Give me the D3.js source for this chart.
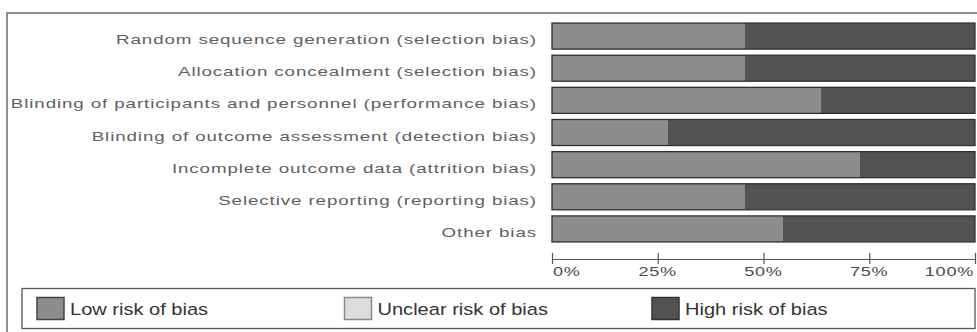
<!DOCTYPE html>
<html>
<head>
<meta charset="utf-8">
<script src="https://cdn.jsdelivr.net/npm/d3@7"></script>
<style>
  html, body { margin: 0; padding: 0; background: #fff; }
  svg { display: block; }
  text { font-family: "Liberation Sans", Arial, sans-serif; }
</style>
</head>
<body>
<svg id="chart" width="977" height="332"></svg>
<script>
// Risk-of-bias domains (top to bottom)
const domains = [
  "Random sequence generation (selection bias)",
  "Allocation concealment (selection bias)",
  "Blinding of participants and personnel (performance bias)",
  "Blinding of outcome assessment (detection bias)",
  "Incomplete outcome data (attrition bias)",
  "Selective reporting (reporting bias)",
  "Other bias"
];
// Share of studies per judgement, in percent
const lowRisk     = [45.5, 45.5, 63.6, 27.3, 72.7, 45.5, 54.5];
const unclearRisk = [0, 0, 0, 0, 0, 0, 0];
const highRisk    = [54.5, 54.5, 36.4, 72.7, 27.3, 54.5, 45.5];

const tickValues = [0, 25, 50, 75, 100];
const tickLabels = ["0%", "25%", "50%", "75%", "100%"];

const legendLabels = ["Low risk of bias", "Unclear risk of bias", "High risk of bias"];

// Styling
const colors = { low: "#8d8d8d", unclear: "#dcdcdc", high: "#535353" };
const barStroke = "#2f2f2f";

const svg = d3.select("#chart");

// Outer frame (top and left edges)
svg.append("path")
  .attr("d", "M7,332 V13 H977")
  .attr("fill", "none")
  .attr("stroke", "#6a6a6a")
  .attr("stroke-width", 1.5);

const x = d3.scaleLinear().domain([0, 100]).range([552, 975]);
const y = d3.scaleBand().domain(domains).range([20, 245])
  .paddingInner(0.19).paddingOuter(0.095);

// Stack the three judgements
const rows = domains.map((d, i) => ({
  domain: d, low: lowRisk[i], unclear: unclearRisk[i], high: highRisk[i]
}));
const stack = d3.stack().keys(["low", "unclear", "high"])(rows);

const barG = svg.append("g");
stack.forEach(layer => {
  barG.selectAll(null)
    .data(layer)
    .join("rect")
    .attr("x", d => x(d[0]))
    .attr("y", d => y(d.data.domain))
    .attr("width", d => x(d[1]) - x(d[0]))
    .attr("height", y.bandwidth())
    .attr("fill", colors[layer.key]);
});
// Outline around every bar
barG.selectAll(null)
  .data(rows)
  .join("rect")
  .attr("x", x(0))
  .attr("y", d => y(d.domain))
  .attr("width", x(100) - x(0))
  .attr("height", y.bandwidth())
  .attr("fill", "none")
  .attr("stroke", barStroke)
  .attr("stroke-width", 1.3);

// Horizontally stretched text helper
function stretchedText(g, tx, ty, str, size, sx, anchor, fill, spacing) {
  return g.append("text")
    .attr("transform", `translate(${tx},${ty}) scale(${sx},1)`)
    .attr("text-anchor", anchor)
    .attr("font-size", size)
    .attr("letter-spacing", spacing)
    .attr("fill", fill)
    .text(str);
}

// Domain labels
const labelG = svg.append("g");
domains.forEach(d => {
  stretchedText(labelG, 537, y(d) + y.bandwidth() / 2 + 8, d, 12.5, 1.5, "end", "#606060", 0.6);
});

// Percentage axis
const axisY = 259;
const axis = d3.axisBottom(x).tickValues(tickValues).tickSize(0).tickFormat("");
const axisG = svg.append("g").attr("transform", `translate(0,${axisY})`).call(axis);
axisG.select(".domain").attr("stroke", "#555").attr("stroke-width", 1.2);
axisG.selectAll(".tick line").attr("y1", -6).attr("y2", 5).attr("stroke", "#555").attr("stroke-width", 1.2);

tickValues.forEach((v, i) => {
  let anchor = "middle", px = x(v);
  if (i === 0) { anchor = "start"; px = x(v) + 1; }
  if (i === tickValues.length - 1) { anchor = "end"; px = x(v) - 1; }
  stretchedText(svg, px, 276, tickLabels[i], 12.5, 1.45, anchor, "#4a4a4a", 0.5);
});

// Legend
const legendG = svg.append("g");
legendG.append("rect")
  .attr("x", 22).attr("y", 288.5)
  .attr("width", 953).attr("height", 40)
  .attr("fill", "none").attr("stroke", "#555").attr("stroke-width", 1.3);

const legendKeys = ["low", "unclear", "high"];
const legendStrokes = ["#444", "#888", "#333"];
const lx = d3.scaleLinear().domain([0, 1]).range([37, 344.5]);
legendLabels.forEach((lab, i) => {
  const sx0 = lx(i);
  legendG.append("rect")
    .attr("x", sx0).attr("y", 297.5)
    .attr("width", 27).attr("height", 22)
    .attr("fill", colors[legendKeys[i]])
    .attr("stroke", legendStrokes[i]).attr("stroke-width", 1.5);
  stretchedText(legendG, sx0 + 33, 315, lab, 17, 1.18, "start", "#333", 0);
});
</script>
</body>
</html>
